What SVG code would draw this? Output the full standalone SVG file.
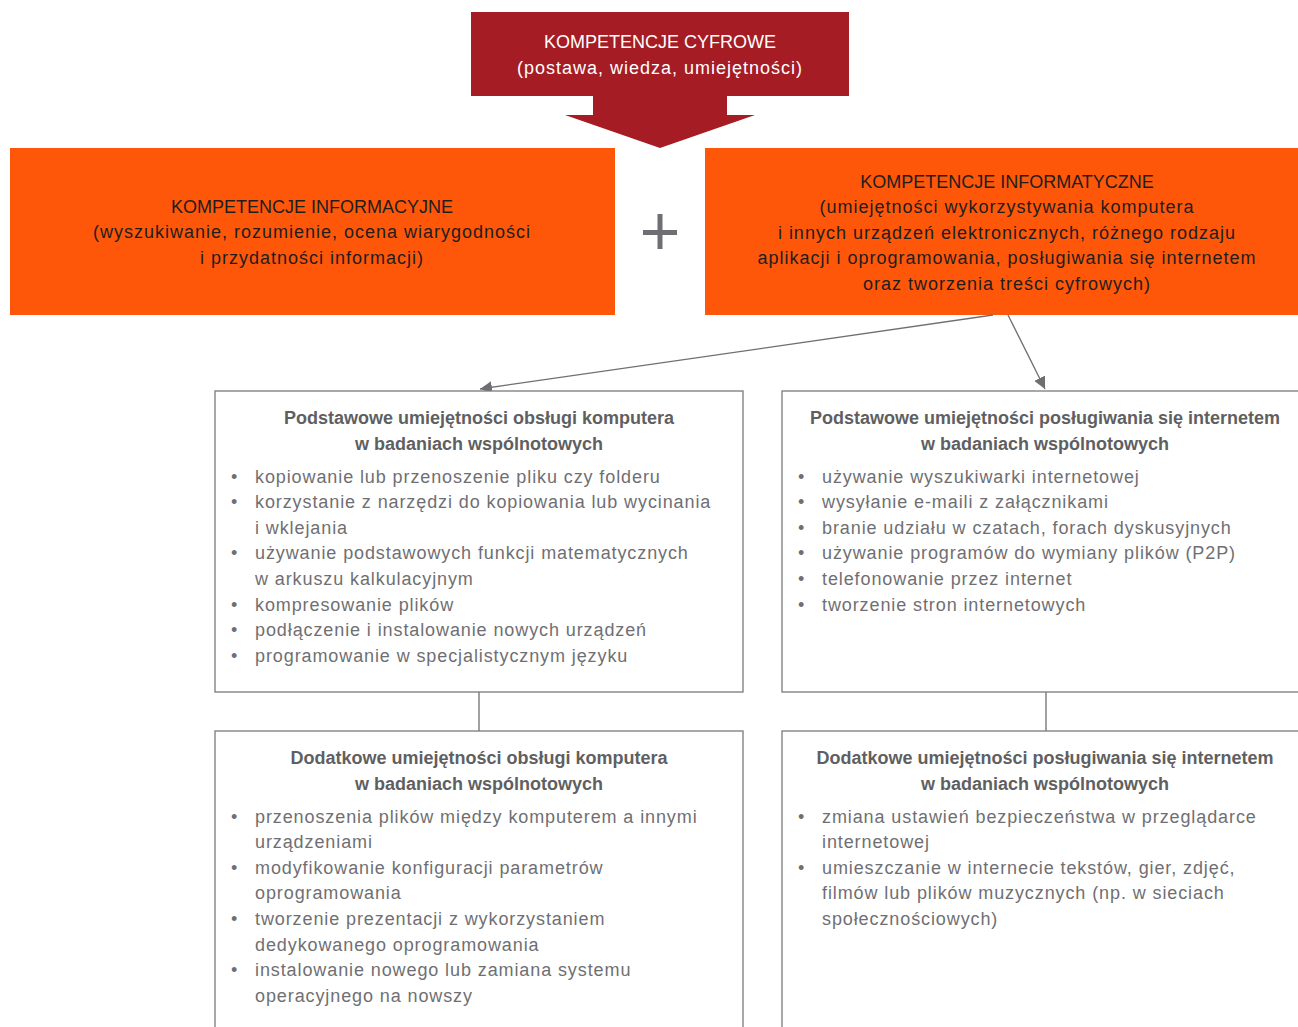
<svg xmlns="http://www.w3.org/2000/svg" width="1298" height="1027" viewBox="0 0 1298 1027">
<defs>
<marker id="ah" viewBox="0 0 10 10" refX="10" refY="5" markerWidth="12" markerHeight="12" markerUnits="userSpaceOnUse" orient="auto"><path d="M0,0 L10,5 L0,10 z" fill="#6f6f73"/></marker>
<style>
.hdr{font-family:"Liberation Sans",Arial,sans-serif;font-size:18px;text-anchor:middle}
.sp{letter-spacing:1px}
.w{fill:#ffffff}
.k{fill:#1e1e1e}
.ttl{font-family:"Liberation Sans",Arial,sans-serif;font-size:18px;font-weight:bold;fill:#5f5f62;text-anchor:middle}
.it{font-family:"Liberation Sans",Arial,sans-serif;font-size:18px;fill:#6f6f73;letter-spacing:0.9px}
.box{fill:#ffffff;stroke:#7a7a7d;stroke-width:1.3}
.con{stroke:#6f6f73;stroke-width:1.3;fill:none}
</style>
</defs>
<rect width="1298" height="1027" fill="#ffffff"/>
<g id="cyfrowe">
<rect x="471" y="12" width="378" height="84" fill="#a51c24"/>
<polygon points="593,96 727,96 727,115 755,115 660,148 565,115 593,115" fill="#a51c24"/>
<text class="hdr w" x="660" y="48">KOMPETENCJE CYFROWE</text>
<text class="hdr w sp" x="660" y="74">(postawa, wiedza, umiejętności)</text>
</g>
<g id="informacyjne">
<rect x="10" y="148" width="605" height="167" fill="#ff570a"/>
<text class="hdr k" x="312" y="213">KOMPETENCJE INFORMACYJNE</text>
<text class="hdr k sp" x="312" y="238">(wyszukiwanie, rozumienie, ocena wiarygodności</text>
<text class="hdr k sp" x="312" y="264">i przydatności informacji)</text>
</g>
<g id="plus">
<rect x="643" y="230" width="34" height="5" fill="#6f6f73"/>
<rect x="657.5" y="214" width="5" height="35" fill="#6f6f73"/>
</g>
<g id="informatyczne">
<rect x="705" y="148" width="593" height="167" fill="#ff570a"/>
<text class="hdr k" x="1007" y="188">KOMPETENCJE INFORMATYCZNE</text>
<text class="hdr k sp" x="1007" y="213">(umiejętności wykorzystywania komputera</text>
<text class="hdr k sp" x="1007" y="239">i innych urządzeń elektronicznych, różnego rodzaju</text>
<text class="hdr k sp" x="1007" y="264">aplikacji i oprogramowania, posługiwania się internetem</text>
<text class="hdr k sp" x="1007" y="290">oraz tworzenia treści cyfrowych)</text>
</g>
<g id="connectors">
<line class="con" x1="993" y1="315" x2="480" y2="389" marker-end="url(#ah)"/>
<line class="con" x1="1008" y1="315" x2="1045" y2="389" marker-end="url(#ah)"/>
<line class="con" x1="479" y1="692" x2="479" y2="731"/>
<line class="con" x1="1046" y1="692" x2="1046" y2="731"/>
</g>
<g id="podst-komputer">
<rect class="box" x="215" y="391" width="528" height="301"/>
<text class="ttl" x="479" y="424">Podstawowe umiejętności obsługi komputera</text>
<text class="ttl" x="479" y="450">w badaniach wspólnotowych</text>
<g class="it">
<text x="231" y="483">•</text><text x="255" y="483">kopiowanie lub przenoszenie pliku czy folderu</text>
<text x="231" y="508">•</text><text x="255" y="508">korzystanie z narzędzi do kopiowania lub wycinania</text>
<text x="255" y="534">i wklejania</text>
<text x="231" y="559">•</text><text x="255" y="559">używanie podstawowych funkcji matematycznych</text>
<text x="255" y="585">w arkuszu kalkulacyjnym</text>
<text x="231" y="611">•</text><text x="255" y="611">kompresowanie plików</text>
<text x="231" y="636">•</text><text x="255" y="636">podłączenie i instalowanie nowych urządzeń</text>
<text x="231" y="662">•</text><text x="255" y="662">programowanie w specjalistycznym języku</text>
</g>
</g>
<g id="podst-internet">
<rect class="box" x="782" y="391" width="520" height="301"/>
<text class="ttl" x="1045" y="424">Podstawowe umiejętności posługiwania się internetem</text>
<text class="ttl" x="1045" y="450">w badaniach wspólnotowych</text>
<g class="it">
<text x="798" y="483">•</text><text x="822" y="483">używanie wyszukiwarki internetowej</text>
<text x="798" y="508">•</text><text x="822" y="508">wysyłanie e-maili z załącznikami</text>
<text x="798" y="534">•</text><text x="822" y="534">branie udziału w czatach, forach dyskusyjnych</text>
<text x="798" y="559">•</text><text x="822" y="559">używanie programów do wymiany plików (P2P)</text>
<text x="798" y="585">•</text><text x="822" y="585">telefonowanie przez internet</text>
<text x="798" y="611">•</text><text x="822" y="611">tworzenie stron internetowych</text>
</g>
</g>
<g id="dod-komputer">
<rect class="box" x="215" y="731" width="528" height="310"/>
<text class="ttl" x="479" y="764">Dodatkowe umiejętności obsługi komputera</text>
<text class="ttl" x="479" y="790">w badaniach wspólnotowych</text>
<g class="it">
<text x="231" y="823">•</text><text x="255" y="823">przenoszenia plików między komputerem a innymi</text>
<text x="255" y="848">urządzeniami</text>
<text x="231" y="874">•</text><text x="255" y="874">modyfikowanie konfiguracji parametrów</text>
<text x="255" y="899">oprogramowania</text>
<text x="231" y="925">•</text><text x="255" y="925">tworzenie prezentacji z wykorzystaniem</text>
<text x="255" y="951">dedykowanego oprogramowania</text>
<text x="231" y="976">•</text><text x="255" y="976">instalowanie nowego lub zamiana systemu</text>
<text x="255" y="1002">operacyjnego na nowszy</text>
</g>
</g>
<g id="dod-internet">
<rect class="box" x="782" y="731" width="520" height="310"/>
<text class="ttl" x="1045" y="764">Dodatkowe umiejętności posługiwania się internetem</text>
<text class="ttl" x="1045" y="790">w badaniach wspólnotowych</text>
<g class="it">
<text x="798" y="823">•</text><text x="822" y="823">zmiana ustawień bezpieczeństwa w przeglądarce</text>
<text x="822" y="848">internetowej</text>
<text x="798" y="874">•</text><text x="822" y="874">umieszczanie w internecie tekstów, gier, zdjęć,</text>
<text x="822" y="899">filmów lub plików muzycznych (np. w sieciach</text>
<text x="822" y="925">społecznościowych)</text>
</g>
</g>
</svg>
